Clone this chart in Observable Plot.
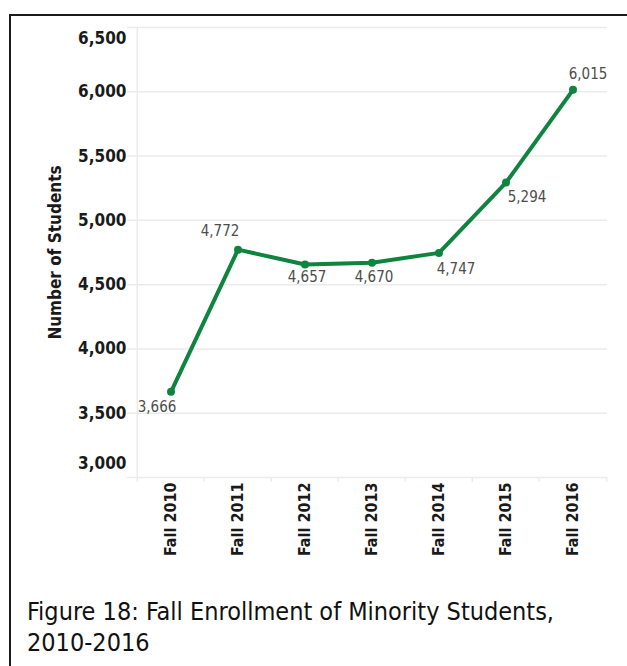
<!DOCTYPE html>
<html>
<head>
<meta charset="utf-8">
<script src="https://cdn.jsdelivr.net/npm/d3@7"></script>
<script src="https://cdn.jsdelivr.net/npm/@observablehq/plot@0.6"></script>
<style>
  html, body { margin: 0; padding: 0; background: #fff; width: 627px; height: 666px; overflow: hidden; }
  #frame { position: absolute; left: 9px; top: 14px; width: 700px; height: 700px; border-left: 2px solid #1a1a1a; border-top: 2px solid #1a1a1a; }
  #chart { position: absolute; left: 0; top: 0; }
  #caption { position: absolute; left: 27px; top: 596px; font-family: "DejaVu Sans Condensed", "DejaVu Sans", sans-serif; font-weight: 300; font-size: 25px; line-height: 31px; color: #111; }
</style>
</head>
<body>
<div id="frame"></div>
<div id="chart"></div>
<div id="caption">Figure 18: Fall Enrollment of Minority Students,<br>2010-2016</div>
<script>
const terms = ["Fall 2010", "Fall 2011", "Fall 2012", "Fall 2013", "Fall 2014", "Fall 2015", "Fall 2016"];
const students = [3666, 4772, 4657, 4670, 4747, 5294, 6015];
const yTicks = [3000, 3500, 4000, 4500, 5000, 5500, 6000, 6500];

const data = terms.map((t, i) => ({term: t, value: students[i]}));
const fmt = d3.format(",");
const green = "#0f843f";
const W = 627, ML = 135, MR = 20;
const bw = (W - ML - MR) / terms.length;

const labelFont = {fontFamily: "DejaVu Sans Condensed, DejaVu Sans, sans-serif", fontSize: 15, fill: "#4d4d4d"};
const labelMark = (idx, dx, dy) => Plot.text(data.filter((d, i) => i === idx), {
  x: "term", y: "value", text: d => fmt(d.value), dx, dy, ...labelFont
});

const chart = Plot.plot({
  width: W,
  height: 570,
  marginLeft: ML,
  marginRight: MR,
  marginTop: 27,
  marginBottom: 93,
  style: {fontFamily: "DejaVu Sans Condensed, DejaVu Sans, sans-serif", background: "transparent"},
  x: {type: "band", domain: terms, padding: 0, label: null},
  y: {domain: [3000, 6500], label: null},
  marks: [
    Plot.ruleY(yTicks, {stroke: "#ebebeb", strokeWidth: 1.5, insetLeft: -8}),
    Plot.ruleX([terms[0]], {x: d => d, dx: -bw / 2, stroke: "#ebebeb", strokeWidth: 1.5, insetBottom: -5}),
    Plot.ruleX(terms.slice(1), {x: d => d, dx: -bw / 2, y1: 3000, y2: 3000, stroke: "#ebebeb", strokeWidth: 1.5, insetBottom: -5}),
    Plot.ruleX([terms[terms.length - 1]], {x: d => d, dx: bw / 2, y1: 3000, y2: 3000, stroke: "#ebebeb", strokeWidth: 1.5, insetBottom: -5}),
    Plot.axisY(yTicks.filter(v => v !== 3000 && v !== 6500), {tickSize: 0, tickPadding: 9, tickFormat: fmt, fontSize: 17, fontWeight: "bold", fill: "#1a1a1a", label: null}),
    Plot.axisY([6500], {tickSize: 0, tickPadding: 9, tickFormat: fmt, fontSize: 17, fontWeight: "bold", fill: "#1a1a1a", dy: 11, label: null}),
    Plot.axisY([3000], {tickSize: 0, tickPadding: 9, tickFormat: fmt, fontSize: 17, fontWeight: "bold", fill: "#1a1a1a", dy: -14, label: null}),
    Plot.text(["Number of Students"], {frameAnchor: "left", textAnchor: "middle", dx: -80, rotate: -90, fontSize: 17, fontWeight: "bold", fill: "#1a1a1a"}),
    Plot.axisX({tickRotate: -90, tickSize: 0, tickPadding: 5, fontSize: 16, fontWeight: "bold", fill: "#1a1a1a", label: null}),
    Plot.line(data, {x: "term", y: "value", stroke: green, strokeWidth: 4, strokeLinejoin: "round", strokeLinecap: "round"}),
    Plot.dot(data, {x: "term", y: "value", r: 4, fill: green}),
    labelMark(0, -14, 15),
    labelMark(1, -18, -18),
    labelMark(2, 2, 13),
    labelMark(3, 2, 14),
    labelMark(4, 17, 16),
    labelMark(5, 21, 15),
    labelMark(6, 15, -16)
  ]
});
document.getElementById("chart").appendChild(chart);
</script>
</body>
</html>
